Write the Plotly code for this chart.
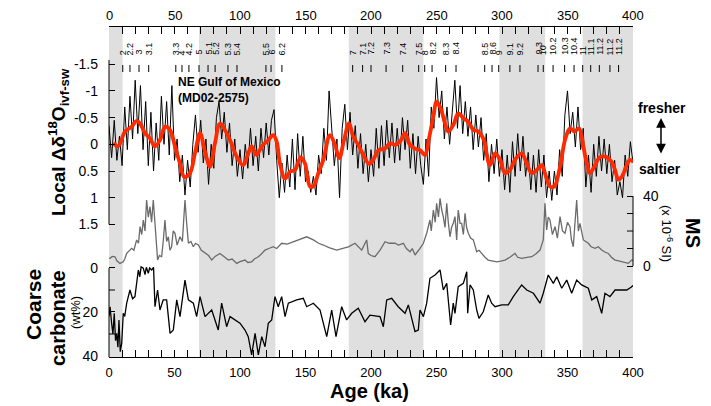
import plotly.graph_objects as go

# ---------------- data ----------------
# age axis tick labels (ka)
age_ticks = [0, 50, 100, 150, 200, 250, 300, 350, 400]
# labelled / unlabelled ticks of the lower axes
carb_ticks = [0, 20, 40]
carb_minor = [10, 30]
ms_ticks = [0, 40]
ms_minor = [10, 20, 30]

# MIS shading bands (ka)
band_start = [0, 68.7, 183, 298, 361.5]
band_end = [10.4, 127, 240, 333, 400]

# MIS event labels (top)
mis_labels = ["2", "2.2", "3", "3.1", "3.3", "4", "4.2", "5", "5.1", "5.2", "5.3", "5.4",
              "5.5", "6", "6.2", "7", "7.1", "7.2", "7.3", "7.4", "7.5", "8", "8.2", "8.3",
              "8.4", "8.5", "8.6", "9", "9.1", "9.2", "9.3", "10", "10.2", "10.3", "10.4",
              "11", "11.1", "11.2", "11.2", "11.2"]
mis_ages = [10.5, 16, 22.9, 30.3, 51, 55.7, 61, 68.7, 75.6, 81, 90.8, 97.7,
            119.8, 123.7, 132, 186, 193.6, 200, 211.5, 224.2, 236.4, 241, 246.6, 257,
            264.9, 286.8, 292.4, 297.5, 306, 313.7, 327.5, 331.5, 339, 347.8, 355,
            361.6, 367.7, 374.3, 382.4, 389]

# Local delta18O ivf-sw (raw, 2 ka steps from 0 to 400 ka)
d18_age = list(range(0, 401, 2))
d18_val = [
    -0.35, 0.25, -0.45, 0.3, -0.15, 0.4, -0.7, 0.1, -0.9, -0.1,
    -1.2, -0.2, -1.1, 0.1, -0.8, 0.4, -0.6, 0.5, -0.4, 0.3,
    -0.9, 0.0, -0.8, 0.2, -1.1, 0.3, -0.1, 0.7, 0.2, 0.95,
    0.3, 0.8, 0.0, -0.55, 0.15, -0.45, 0.35, -0.1, 0.75, 0.0,
    0.45, -0.5, -0.8, -0.1, -0.6, 0.15, -0.4, 0.4, -0.1, 0.6,
    0.1, 0.65, 0.0, 0.45, -0.3, 0.4, -0.15, 0.5, -0.3, 0.25,
    -0.4, 0.2, -0.45, -0.65, 0.3, 1.0, 0.35, 0.9, 0.2, 0.8,
    -0.1, 0.85, -0.2, 0.6, -0.15, 0.7, 0.5, 0.9, 0.6, 0.95,
    0.2, 0.55, -0.3, 0.3, -1.0, -0.3, 0.4, -0.1, 1.0, -0.3,
    -0.75, 0.1, -0.6, 0.2, -0.35, 0.45, -0.2, 0.55, 0.0, 0.7,
    0.1, 0.6, -0.3, 0.45, -0.35, 0.4, -0.45, 0.25, -0.4, 0.35,
    -0.3, 0.3, -0.5, 0.1, -0.45, 0.45, -0.2, 0.55, -0.15, 0.4,
    0.75, -0.1, 0.6, -0.7, -0.3, -1.25, -0.5, -1.0, -0.1, -0.7,
    0.0, -0.6, -1.2, -0.3, -1.1, -0.2, -0.8, -0.15, -0.7, 0.1,
    -0.55, 0.05, -0.5, 0.3, -0.2, 0.7, 0.0, 0.55, -0.1, 0.6,
    0.1, 0.85, 0.2, 0.9, -0.05, 0.6, -0.2, 0.5, -0.15, 0.6,
    0.15, 0.85, 0.2, 0.9, 0.1, 0.8, 0.2, 1.0, 0.5, 1.05,
    0.5, 0.95, 0.1, 0.6, -0.55, -1.0, -0.2, -0.6, 0.05, -0.7,
    0.1, -0.3, 0.8, 0.2, 0.9, 0.0, 0.6, -0.15, 0.5, -0.1,
    0.55, 0.0, 0.7, 0.3, 0.95, 0.7, 1.0, 0.2, 0.6, -0.05,
    0.35]

# Smoothed delta18O (red)
smooth_age = [3.3, 7.1, 12.2, 17.3, 21.1, 23.7, 27.5, 31.3, 35.1, 38.9, 42.7, 46.6, 50.4, 54.2,
              57.5, 61.8, 65.6, 69.5, 73.3, 77.1, 80.9, 84.7, 88.5, 92.4, 97.5, 102.5, 106.3,
              108.9, 112.7, 116.6, 121.6, 125.4, 128, 130.5, 134.4, 138.2, 142, 146.3, 149.6,
              153.4, 156, 159.8, 163.6, 168.7, 172.5, 175.8, 179.4, 183.2, 186.5, 190.3, 194.1,
              198.7, 201.8, 205.6, 210.7, 214.5, 218.3, 222.1, 226, 229.8, 233.6, 237.4, 241.2,
              244.5, 247.6, 250.1, 253.2, 256.5, 259, 262.8, 266.6, 270.5, 274.3, 278.1, 281.9,
              285.7, 290.8, 294.7, 298.5, 302.3, 306.1, 309.9, 315, 318.9, 322.7, 326.5, 330.3,
              332.8, 336.6, 339.9, 344.3, 348.1, 351.9, 355.2, 358.8, 362.1, 364.7, 367.2, 371,
              374.8, 379.9, 383.7, 386.3, 388.8, 391.4, 395.2, 397.7, 400.2]
smooth_val = [-0.02, 0.03, -0.24, -0.33, -0.44, -0.39, -0.21, -0.11, 0.04, -0.08, -0.33, -0.27, 0.04, 0.36,
              0.61, 0.54, 0.17, -0.21, 0.14, 0.42, -0.02, -0.39, -0.27, -0.08, 0.23, 0.39, 0.17,
              0.04, 0.2, 0.04, -0.08, -0.17, -0.05, 0.36, 0.64, 0.51, 0.48, 0.24, 0.36,
              0.79, 0.79, 0.54, 0.29, -0.17, 0.01, 0.26, -0.08, -0.39, -0.14, 0.01, 0.2,
              0.37, 0.29, 0.11, 0.08, -0.02, 0.01, -0.05, -0.21, 0.01, 0.08, 0.11, 0.2,
              -0.14, -0.52, -0.8, -0.67, -0.39, -0.24, -0.36, -0.58, -0.49, -0.42, -0.27, -0.24,
              -0.11, 0.39, 0.17, 0.29, 0.54, 0.48, 0.29, 0.17, 0.36, 0.54, 0.48, 0.39,
              0.54, 0.79, 0.79, 0.42, -0.08, -0.3, -0.24, -0.3, 0.04, 0.36, 0.54, 0.39,
              0.24, 0.24, 0.33, 0.48, 0.66, 0.61, 0.39, 0.29, 0.33]

# Magnetic susceptibility (x 10^-6 SI)
ms_age = [0, 0.8, 2.5, 4.6, 6, 8.4, 10.9, 12, 13.5, 15, 17.3, 19, 21.1, 22.5, 23.7, 25, 26.2, 27.5,
          28.7, 30, 31.3, 32.5, 33.8, 35.1, 36, 37.1, 38.5, 40.2, 41.5, 42.7, 44, 45.3, 46.5, 47.8,
          49, 50.4, 52, 54.2, 56, 57, 58, 59.3, 60.6, 62.5, 64.4, 66, 68.2, 70.5, 73.3, 76, 78.4,
          81, 84.7, 88, 91.1, 94, 97.5, 100, 103.8, 106, 108.9, 111, 114, 116.5, 119.1, 122, 125.4,
          128, 131.8, 136, 140.7, 145, 150.9, 156, 160, 163.6, 168, 173.8, 178, 182.7, 187.8, 192.9,
          196.7, 197.9, 200, 203, 206.9, 210.7, 214, 218.3, 221, 224.7, 227, 229.8, 231.5, 233.6,
          237.4, 240, 242.5, 245, 246, 247.6, 249, 250.1, 251.5, 252.7, 254, 255.2, 256.5, 257.8,
          259, 260.3, 261.5, 262.8, 264.1, 265.4, 266.6, 268, 269.2, 270.5, 271.8, 273, 274.3, 276,
          278.1, 279.5, 280.7, 282.5, 284.5, 287, 289.5, 293, 296, 299, 302.3, 306, 309.9, 312, 315,
          319, 322.7, 326, 329, 331.5, 332.8, 334.1, 335.3, 336.6, 338.5, 340.5, 342.3, 344.3, 346.2,
          348.1, 350, 351.9, 353, 354.4, 355.7, 357, 358.3, 359.5, 362.1, 365.9, 368, 371, 373.5,
          376.1, 378.5, 381.2, 383.5, 386.3, 389, 391.4, 394, 396.4, 399, 400]
ms_val = [4.5, 4.4, 5.5, 5.3, 3, 1.5, 2.4, 4, 7.2, 8.5, 10.1, 9, 14.9, 13, 22.5, 18, 26.3, 20,
          37.7, 28, 33.9, 25, 37.7, 24.4, 12, 3.4, 6, 5.3, 15, 26.3, 14, 16.7, 9, 11,
          20, 18.7, 12, 16.7, 14, 30, 37.7, 24.4, 13, 14, 11, 13, 12, 9, 7.2, 6, 3.4,
          5.5, 7.2, 5, 3.4, 4, 1.5, 2.5, 3.4, 2, 2.4, 4, 5.3, 7, 9.1, 10, 11,
          10, 13, 12.5, 13.9, 15, 16.7, 14.9, 13, 12, 10.5, 9.1, 10, 11, 13, 9.1,
          14.9, 7.2, 6, 5.3, 9.1, 13.9, 13, 13, 12, 13, 10, 8.2, 10, 6.3,
          10.1, 13, 18.7, 26.3, 20, 32, 25, 35.8, 28, 38.7, 32, 28.2, 22, 35.8,
          25, 16.7, 22, 24.4, 28.2, 14.9, 32, 24.4, 24.4, 18, 30.1, 22, 18.7, 16,
          14.9, 11, 8.2, 9, 7.2, 5, 3.4, 3, 2.4, 2.8, 3.4, 5, 7.2, 5, 4.4,
          5, 5.3, 7, 9.1, 14.9, 35.8, 20.6, 28, 26.3, 18, 22.5, 16, 28.2, 20,
          18.7, 25, 22.5, 15, 11, 25, 37.7, 20, 24.4, 14.9, 13, 11, 10.1, 11,
          9.1, 8, 7.2, 5, 3.4, 3, 2.4, 2, 1.5, 3.4, 3]

# Coarse carbonate (wt%)
carb_age = [0, 0.8, 2, 3, 4, 5, 5.9, 6.8, 7.6, 8.6, 9.7, 10.9, 12, 13.5, 16, 18, 19.8, 21, 22.4,
            23.5, 24.5, 26.2, 27.5, 28.5, 30, 31, 32.6, 34, 35.1, 37.1, 38.9, 41.4, 44, 46.6, 49.1,
            51.7, 54.2, 58, 60.6, 64.4, 66.9, 69.5, 73.3, 78.4, 83.4, 86, 89.8, 92.4, 96.2, 100,
            103.8, 106.3, 108.9, 111.5, 114, 116.6, 119.1, 121.6, 124.2, 126.7, 129.2, 131.8, 134.4,
            136.9, 143.3, 148.3, 150.9, 156, 161.1, 166.2, 170, 173.3, 177.6, 181.4, 185.3, 190.3,
            195.4, 199.2, 206.9, 209.4, 212, 215.8, 220.8, 226, 228.5, 231.1, 233.6, 236.1, 237.4,
            240, 242.5, 245, 248.9, 252.7, 255.2, 257.8, 260.8, 262.8, 264.1, 266.6, 270.5, 273.1,
            273.8, 275.6, 278.1, 280.7, 282.4, 285.7, 289.5, 292.1, 294.7, 299.8, 304.8, 308.6, 315,
            318.9, 324, 329, 331.5, 335.3, 339.2, 341.8, 345.6, 349.4, 353.2, 357, 360.8, 365.9,
            368.5, 372.3, 376.1, 378.6, 382.4, 386.3, 391.4, 395.2, 398.5, 400]
carb_val = [22, 17.6, 25.1, 30, 20.6, 33, 29.7, 36, 23.6, 38, 34.2, 20.6, 22, 16, 10, 14, 13, 6, 0.9,
            4, -0.5, 0.1, 3, -0.3, 2.4, 0, 0.9, -0.3, 17.6, 10, 19.1, 14.5, 14.5, 29.7, 28.2,
            14.5, 22.1, 5.5, 14.5, 16, 22.1, 13, 22.1, 19.1, 28.2, 16, 26.7, 22.1, 23.6, 25.1,
            28.2, 31.2, 39.5, 29.7, 39.5, 31.2, 35.8, 25.1, 23.6, 13, 17.6, 13, 22.1,
            16, 14.5, 13.8, 17.6, 16, 19.1, 31.2, 19.1, 31.2, 17.6, 23.6, 20.6, 18.3,
            24.4, 21.4, 22.1, 26.7, 14.5, 13.8, 17.6, 20.6, 16.8, 23.6, 28.9, 28.2, 19.1,
            22.1, 16, 4.7, 3.2, 0.9, 10, 7, 25.9, 16, 20.6, 8.5, 7, 1.7,
            20.6, 7.7, 10, 19.1, 22.9, 19.9, 12.3, 16, 17.6, 16.8, 16.8, 13, 7.7,
            10, 11.5, 16, 11.5, 3.2, 7, 4, 9.2, 5.5, 11.5, 5.5, 7.7, 9.2,
            14.5, 13, 20.6, 11.5, 13, 10, 10, 10, 8.8, 8]

# ---------------- figure ----------------
FONT = "Liberation Sans, Arial, Helvetica, sans-serif"
TICK_PAPER = 6 / 524  # 6-px tick length in paper units of the 524-px-wide plot
fig = go.Figure()

for a, b in zip(band_start, band_end):
    fig.add_shape(type="rect", xref="x", yref="paper", x0=a, x1=b, y0=0, y1=1,
                  fillcolor="#dfdfdf", line_width=0, layer="below")

fig.add_trace(go.Scatter(x=d18_age, y=d18_val, mode="lines", yaxis="y",
                         line=dict(color="black", width=1), hoverinfo="skip"))
fig.add_trace(go.Scatter(x=smooth_age, y=smooth_val, mode="lines", yaxis="y",
                         line=dict(color="#ff2a00", width=3.8, shape="spline"), hoverinfo="skip"))
fig.add_trace(go.Scatter(x=ms_age, y=ms_val, mode="lines", yaxis="y2",
                         line=dict(color="#6b6b6b", width=1.3), hoverinfo="skip"))
fig.add_trace(go.Scatter(x=carb_age, y=carb_val, mode="lines", yaxis="y3",
                         line=dict(color="black", width=1.3), hoverinfo="skip"))

tickfont = dict(size=13, color="black", family=FONT)
yfont = dict(size=14, color="black", family=FONT)

fig.update_layout(
    width=703, height=398, autosize=False,
    margin=dict(l=101, r=78, t=19, b=49),
    paper_bgcolor="white", plot_bgcolor="white", showlegend=False,
    font=dict(family=FONT, color="black"),
    xaxis=dict(range=[0, 400], tickvals=age_ticks, ticks="inside", ticklen=7,
               tickcolor="black", showline=True, linecolor="black", linewidth=1,
               mirror="allticks", showgrid=False, zeroline=False, tickfont=tickfont,
               ticklabelstandoff=3,
               minor=dict(ticks="inside", dtick=10, ticklen=4, tickcolor="black", showgrid=False)),
    yaxis=dict(range=[3.983, -2.197], tickvals=[-1.5, -1, -0.5, 0, 0.5, 1, 1.5],
               ticktext=["-1.5", "-1", "-0.5", "0", "0.5", "1", "1.5"],
               ticks="inside", ticklen=6, tickcolor="black", showline=False,
               showgrid=False, zeroline=False, ticklabelstandoff=10, tickfont=yfont),
    yaxis2=dict(range=[-52, 136.6], tickvals=ms_ticks, overlaying="y", side="right", anchor="x",
                ticks="inside", ticklen=6, tickcolor="black", showline=False,
                showgrid=False, zeroline=False, ticklabelstandoff=9, tickfont=yfont),
    yaxis3=dict(range=[40.45, -109.5], tickvals=carb_ticks, overlaying="y", side="left",
                anchor="x", ticks="inside", ticklen=6, tickcolor="black", showline=False,
                showgrid=False, zeroline=False, ticklabelstandoff=10, tickfont=yfont),
)

# unlabelled ticks on the lower axes
for v in carb_minor:
    fig.add_shape(type="line", xref="paper", yref="y3", x0=0, x1=TICK_PAPER, y0=v, y1=v,
                  line=dict(color="black", width=1))
for v in ms_minor:
    fig.add_shape(type="line", xref="paper", yref="y2", x0=1 - TICK_PAPER, x1=1, y0=v, y1=v,
                  line=dict(color="black", width=1))

# top axis tick labels
for t in age_ticks:
    fig.add_annotation(x=t, y=1, xref="x", yref="paper", text=str(t), showarrow=False,
                       xanchor="center", yanchor="bottom", yshift=2, font=tickfont)

# partial axis lines
fig.add_shape(type="line", xref="paper", yref="y", x0=0, x1=0, y0=-1.58, y1=1.5,
              line=dict(color="black", width=1))
fig.add_shape(type="line", xref="paper", yref="y3", x0=0, x1=0, y0=0, y1=40.45,
              line=dict(color="black", width=1))
fig.add_shape(type="line", xref="paper", yref="y2", x0=1, x1=1, y0=0, y1=40,
              line=dict(color="black", width=1))

# MIS ticks and labels
for age, lab in zip(mis_ages, mis_labels):
    fig.add_shape(type="line", xref="x", yref="paper", x0=age, x1=age, y0=0.8636, y1=0.8848,
                  line=dict(color="black", width=1))
    fig.add_annotation(x=age, y=0.909, xref="x", yref="paper", text=lab, textangle=-90,
                       xanchor="center", yanchor="bottom", showarrow=False,
                       font=dict(size=9, color="black", family=FONT))

def ann(text, x, y, size, angle=0, **kw):
    fig.add_annotation(x=x, y=y, xref="paper", yref="paper", text=text, textangle=angle,
                       showarrow=False, font=dict(size=size, color="black", family=FONT), **kw)

ann("<b>NE Gulf of Mexico<br>(MD02-2575)</b>", 0.1279, 0.8106, 12, xanchor="left",
    yanchor="middle", align="left")
ann("<b>Local Δδ<sup>18</sup>O<sub>ivf-sw</sub></b>", -0.0973, 0.6515, 19, angle=-90,
    xanchor="center", yanchor="middle")
ann("<b>Coarse</b>", -0.1431, 0.1576, 21, angle=-90, xanchor="center", yanchor="middle")
ann("<b>carbonate</b>", -0.0973, 0.118, 20, angle=-90, xanchor="center", yanchor="middle")
ann("(wt%)", -0.0650, 0.136, 13, angle=-90, xanchor="center", yanchor="middle")
ann("<b>Age (ka)</b>", 0.498, -0.103, 20, xanchor="center", yanchor="middle")
ann("<b>fresher</b>", 1.0553, 0.7545, 14, xanchor="center", yanchor="middle")
ann("<b>saltier</b>", 1.0515, 0.5697, 14, xanchor="center", yanchor="middle")
ann("<b>MS</b>", 1.1145, 0.3758, 20, angle=90, xanchor="center", yanchor="middle")
ann("(x 10<sup>-6</sup> SI)", 1.0649, 0.3758, 13, angle=90, xanchor="center", yanchor="middle")

# double-headed arrow
fig.add_annotation(x=1.0534, y=0.7242, xref="paper", yref="paper", text="", showarrow=True,
                   ax=0, ay=37, arrowhead=2, arrowside="end+start", arrowsize=1.3,
                   arrowwidth=1.5, arrowcolor="black", standoff=0, startstandoff=0)

fig.write_html("out.html")
